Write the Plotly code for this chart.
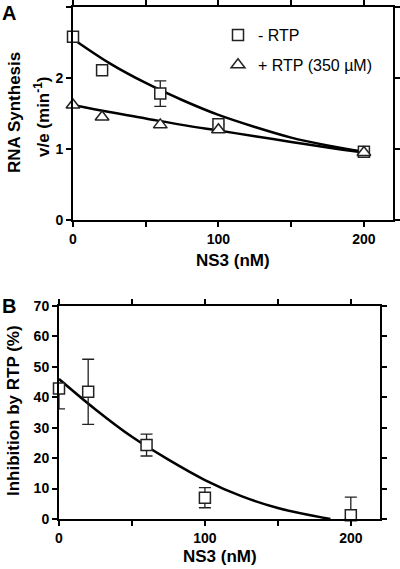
import plotly.graph_objects as go

W, H = 400, 569

# ---------- Panel A data ----------
ns3 = [0, 20, 60, 100, 200]
minus_rtp = [2.58, 2.11, 1.78, 1.35, 0.96]
minus_rtp_err = [0, 0, 0.18, 0, 0]
plus_rtp = [1.62, 1.45, 1.34, 1.27, 0.95]

fit_x = [0, 25, 50, 75, 100, 125, 150, 175, 200]
fit_minus = [2.55, 2.21, 1.93, 1.69, 1.48, 1.31, 1.16, 1.05, 0.96]
fit_plus = [1.62, 1.52, 1.43, 1.34, 1.26, 1.18, 1.10, 1.02, 0.95]

# ---------- Panel B data ----------
inhib = [42.9, 41.8, 24.3, 7.0, 1.2]
inhib_err_up = [0, 10.7, 3.6, 3.3, 6.0]
inhib_err_dn = [6.7, 10.7, 3.6, 3.3, 1.2]
fitB_x = [0, 25, 50, 75, 100, 125, 150, 175, 186]
fitB_y = [46, 36, 27, 19.5, 12.8, 7.5, 3.6, 1.0, 0]

x_tickvals = [0, 100, 200]
yA_tickvals = [0, 1, 2, 3]
yB_tickvals = [0, 10, 20, 30, 40, 50, 60, 70]

fig = go.Figure()
mk_line = dict(color="#222", width=1.5)

# curves
for xs, ys, xa, ya in [(fit_x, fit_minus, "x", "y"), (fit_x, fit_plus, "x", "y"), (fitB_x, fitB_y, "x2", "y2")]:
    fig.add_trace(go.Scatter(x=xs, y=ys, mode="lines", line=dict(color="black", width=2.5, shape="spline"),
                             showlegend=False, xaxis=xa, yaxis=ya))

# points
fig.add_trace(go.Scatter(x=ns3, y=minus_rtp, mode="markers", name="- RTP",
                         marker=dict(symbol="square", size=11, color="white", line=mk_line),
                         error_y=dict(type="data", array=minus_rtp_err, color="#222", thickness=1.3, width=6),
                         cliponaxis=False, legendgroup="a", xaxis="x", yaxis="y"))
fig.add_trace(go.Scatter(x=ns3, y=plus_rtp, mode="markers", name="+ RTP (350 µM)",
                         marker=dict(symbol="triangle-up", size=12, color="white", line=mk_line),
                         cliponaxis=False, legendgroup="b", xaxis="x", yaxis="y"))
fig.add_trace(go.Scatter(x=ns3, y=inhib, mode="markers", showlegend=False,
                         marker=dict(symbol="square", size=11, color="white", line=mk_line),
                         error_y=dict(type="data", array=inhib_err_up, arrayminus=inhib_err_dn,
                                      color="#222", thickness=1.3, width=6),
                         cliponaxis=False, xaxis="x2", yaxis="y2"))

tickfont = dict(family="Arial", size=14, color="black", weight="bold")
axis_common = dict(showline=True, linecolor="black", linewidth=2, mirror="ticks",
                   ticks="outside", ticklen=5, tickwidth=2, tickcolor="black",
                   showgrid=False, zeroline=False, tickfont=tickfont, automargin=False)
x_minor = dict(ticks="outside", dtick=50, tick0=0, ticklen=5, tickwidth=2, tickcolor="black", showgrid=False)

fig.update_layout(
    template="none",
    width=W, height=H, margin=dict(l=0, r=0, t=0, b=0, autoexpand=False),
    paper_bgcolor="white", plot_bgcolor="white",
    xaxis=dict(domain=[73 / W, 393 / W], range=[0, 220], anchor="y",
               tickvals=x_tickvals, minor=x_minor, **axis_common),
    yaxis=dict(domain=[1 - 220 / H, 1 - 7 / H], range=[0, 3], anchor="x",
               tickvals=yA_tickvals, **axis_common),
    xaxis2=dict(domain=[59 / W, 380 / W], range=[0, 220], anchor="y2",
                tickvals=x_tickvals, minor=x_minor, **axis_common),
    yaxis2=dict(domain=[1 - 519 / H, 1 - 306 / H], range=[0, 70], anchor="x2",
                tickvals=yB_tickvals, **axis_common),
    legend=dict(x=218 / W, y=1 - 18 / H, xanchor="left", yanchor="top",
                bgcolor="rgba(0,0,0,0)", borderwidth=0,
                font=dict(family="Arial", size=16, color="black"),
                traceorder="grouped", tracegroupgap=6),
    showlegend=True,
)

ttl = dict(family="Arial", size=17, color="black", weight="bold")
ann = [
    dict(x=0, y=1 - 0 / H, xref="paper", yref="paper", text="A", showarrow=False,
         xanchor="left", yanchor="top", font=dict(family="Arial", size=20, color="black", weight="bold")),
    dict(x=0, y=1 - 293 / H, xref="paper", yref="paper", text="B", showarrow=False,
         xanchor="left", yanchor="top", font=dict(family="Arial", size=20, color="black", weight="bold")),
    dict(x=14 / W, y=1 - 113 / H, xref="paper", yref="paper", text="RNA Synthesis", textangle=-90,
         showarrow=False, xanchor="center", yanchor="middle", font=ttl),
    dict(x=42 / W, y=1 - 117 / H, xref="paper", yref="paper", text="v/e (min<sup>-1</sup>)", textangle=-90,
         showarrow=False, xanchor="center", yanchor="middle", font=ttl),
    dict(x=233 / W, y=1 - 260 / H, xref="paper", yref="paper", text="NS3 (nM)",
         showarrow=False, xanchor="center", yanchor="middle", font=ttl),
    dict(x=13 / W, y=1 - 411 / H, xref="paper", yref="paper", text="Inhibition by RTP (%)", textangle=-90,
         showarrow=False, xanchor="center", yanchor="middle", font=ttl),
    dict(x=220 / W, y=1 - 556 / H, xref="paper", yref="paper", text="NS3 (nM)",
         showarrow=False, xanchor="center", yanchor="middle", font=ttl),
]
fig.update_layout(annotations=ann)

fig.write_html("out.html", config={"displayModeBar": False},
               post_script="document.body.style.margin='0';document.body.style.overflow='hidden';")
